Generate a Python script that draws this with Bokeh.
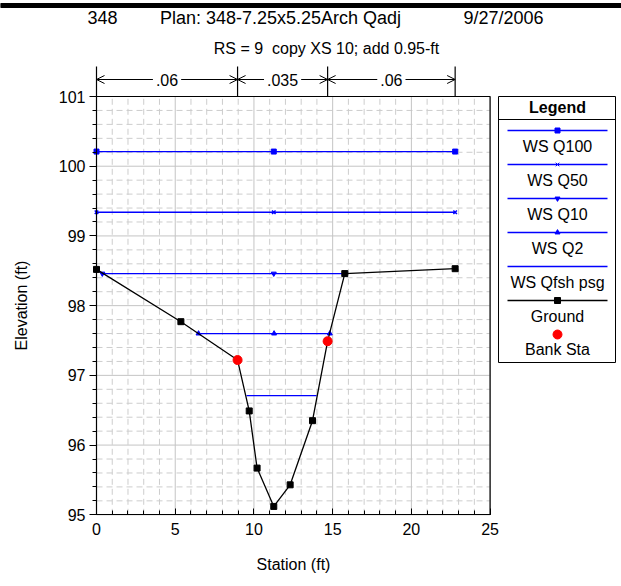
from bokeh.plotting import figure
from bokeh.models import Range1d, Label, Arrow, OpenHead, FixedTicker, ColumnDataSource
from bokeh.embed import file_html
from bokeh.resources import INLINE

# ---------------- data ----------------
ground_sta = [0.0, 5.36, 8.96, 9.70, 10.20, 11.26, 12.30, 13.72, 14.68, 15.77, 22.78]
ground_elev = [98.52, 97.77, 97.22, 96.49, 95.67, 95.12, 95.43, 96.35, 97.49, 98.46, 98.53]
bank_sta = [8.96, 14.68]
bank_elev = [97.22, 97.49]

ws_names = ["WS Q100", "WS Q50", "WS Q10", "WS Q2", "WS Qfsh psg"]
ws_elev = [100.21, 99.34, 98.46, 97.60, 96.71]
ws_left = [0.0, 0.0, 0.37, 6.48, 9.53]
ws_right = [22.78, 22.78, 15.77, 14.82, 13.98]
ws_mid = [11.26, 11.26, 11.26, 11.28, None]
ws_marker = ["square", "x", "inverted_triangle", "triangle", None]

n_sta = [0.0, 8.96, 14.68, 22.78]
n_vals = [".06", ".035", ".06"]

x_ticks = [0, 5, 10, 15, 20, 25]
y_ticks = [95, 96, 97, 98, 99, 100, 101]
x_min, x_max, y_min, y_max = 0, 25, 95, 101

title_parts = ["348", "Plan: 348-7.25x5.25Arch Qadj", "9/27/2006"]
subtitle = "RS = 9\u00a0\u00a0copy XS 10; add 0.95-ft"

# ---------------- layout (pixels of the page) ----------------
FONT = "Liberation Sans"
W, H = 621, 586
PX0, PX1 = 96.0, 489.6   # plot box left / right
PY0, PY1 = 96.0, 514.3   # plot box top / bottom
SX = (PX1 - PX0) / (x_max - x_min)
SY = (PY1 - PY0) / (y_max - y_min)

def fx(px):
    return x_min + (px - PX0) / SX

def fy(py):
    return y_max - (py - PY0) / SY

p = figure(width=W, height=H, output_backend="svg", toolbar_location=None,
           x_range=Range1d(fx(0), fx(W)), y_range=Range1d(fy(H), fy(0)),
           min_border=0, min_border_left=0, min_border_right=0,
           min_border_top=0, min_border_bottom=0,
           background_fill_color="white", border_fill_color="white")
p.outline_line_color = None
p.xgrid.visible = False
p.ygrid.visible = False

# ---------------- grid (drawn inside the plot box) ----------------
GRID = "#c4c4c4"
MINOR = "#cdcdcd"
minor_x = [v for v in range(x_min, x_max + 1) if v not in x_ticks]
minor_y = [95 + 0.2 * i for i in range(31) if i % 5 != 0]
p.segment(x0=minor_x, y0=[y_min] * len(minor_x), x1=minor_x, y1=[y_max] * len(minor_x),
          line_color=MINOR, line_dash="6 4", line_width=1)
p.segment(x0=[x_min] * len(minor_y), y0=minor_y, x1=[x_max] * len(minor_y), y1=minor_y,
          line_color=MINOR, line_dash="6 4", line_width=1)
p.segment(x0=x_ticks, y0=[y_min] * len(x_ticks), x1=x_ticks, y1=[y_max] * len(x_ticks),
          line_color=GRID, line_width=1)
p.segment(x0=[x_min] * len(y_ticks), y0=y_ticks, x1=[x_max] * len(y_ticks), y1=y_ticks,
          line_color=GRID, line_width=1)
p.line([x_min, x_max, x_max], [y_max, y_max, y_min], color="black", line_width=1.2)

# ---------------- axes ----------------
p.xaxis.ticker = FixedTicker(ticks=x_ticks, minor_ticks=list(range(x_min, x_max + 1)))
p.yaxis.ticker = FixedTicker(ticks=y_ticks, minor_ticks=[95 + 0.2 * i for i in range(31)])
p.xaxis.fixed_location = y_min
p.yaxis.fixed_location = x_min
p.xaxis.bounds = (x_min, x_max)
p.yaxis.bounds = (y_min, y_max)
for ax in (p.xaxis[0], p.yaxis[0]):
    ax.axis_line_color = "black"
    ax.axis_line_width = 1.2
    ax.major_tick_line_color = "black"
    ax.minor_tick_line_color = "black"
    ax.major_label_text_font = FONT
    ax.major_label_text_font_size = "16px"
    ax.major_label_text_color = "black"
    ax.axis_label_text_font = FONT
    ax.axis_label_text_font_size = "16px"
    ax.axis_label_text_font_style = "normal"
    ax.axis_label_text_color = "black"
p.xaxis.axis_label = "Station (ft)"
p.yaxis.axis_label = "Elevation (ft)"
p.xaxis.major_tick_in = 6
p.xaxis.major_tick_out = 0
p.xaxis.minor_tick_in = 4
p.xaxis.minor_tick_out = 0
p.xaxis.major_label_standoff = 8
p.xaxis.axis_label_standoff = 18
p.yaxis.major_tick_in = 0
p.yaxis.major_tick_out = 7
p.yaxis.minor_tick_in = 0
p.yaxis.minor_tick_out = 4
p.yaxis.major_label_standoff = 4
p.yaxis.axis_label_standoff = 26

# ---------------- data glyphs ----------------
BLUE = "#0000ff"
for i in range(len(ws_names)):
    p.line([ws_left[i], ws_right[i]], [ws_elev[i], ws_elev[i]], color=BLUE, line_width=1.3)
    if ws_marker[i] is not None:
        xs = [ws_left[i], ws_mid[i], ws_right[i]]
        p.scatter(xs, [ws_elev[i]] * 3, marker=ws_marker[i], size=5,
                  color=BLUE, line_width=1.5 if ws_marker[i] == "x" else 1)

p.line(ground_sta, ground_elev, color="black", line_width=1.3)
p.scatter(ground_sta, ground_elev, marker="square", size=6, color="black")
p.scatter(bank_sta, bank_elev, marker="circle", size=9, color="#ff0000")

# ---------------- annotations ----------------
def lab(px, py, text, size="16px", style="normal"):
    p.add_layout(Label(x=fx(px), y=fy(py), text=text, text_align="center",
                       text_baseline="middle", text_font=FONT, text_font_size=size,
                       text_font_style=style, text_color="black"))

def seg(px0, py0, px1, py1, color="black", width=1.0):
    p.line([fx(px0), fx(px1)], [fy(py0), fy(py1)], color=color, line_width=width)

# thick top rule
p.quad(left=fx(0), right=fx(W), top=fy(3), bottom=fy(7), color="black")

# titles
lab(102, 17, title_parts[0], size="18px")
lab(280, 17, title_parts[1], size="18px")
lab(503, 17, title_parts[2], size="18px")
lab(326, 48, subtitle, size="16px")

# Manning's n boundaries
top_y, arr_y = 66, 79
p.segment(x0=n_sta, y0=[fy(top_y)] * len(n_sta), x1=n_sta, y1=[y_max] * len(n_sta),
          line_color="black", line_width=1.2)
for i, t in enumerate(n_vals):
    p.add_layout(Arrow(x_start=n_sta[i], y_start=fy(arr_y), x_end=n_sta[i + 1], y_end=fy(arr_y),
                       start=OpenHead(size=8, line_width=1), end=OpenHead(size=8, line_width=1),
                       line_color="black", line_width=1))
    p.add_layout(Label(x=(n_sta[i] + n_sta[i + 1]) / 2, y=fy(arr_y), text=t, text_align="center",
                       text_baseline="middle", text_font=FONT, text_font_size="16px",
                       text_color="black", background_fill_color="white", padding=3))

# legend box
LX0, LX1, LY0, LY1 = 498, 615, 96, 362
p.quad(left=fx(LX0), right=fx(LX1), top=fy(LY0), bottom=fy(LY1),
       fill_color="white", line_color="black", line_width=1)
seg(LX0, 119, LX1, 119)
lab(557, 107, "Legend", style="bold")
lx0, lx1, lxc = 507, 607, 557
legend_markers = ws_marker + ["square"]
legend_names = ws_names + ["Ground"]
legend_colors = [BLUE] * 5 + ["black"]
mk_x, mk_y, mk_m, mk_c, mk_s = [], [], [], [], []
for i, name in enumerate(legend_names):
    ly = 130 + 34 * i
    seg(lx0, ly, lx1, ly, color=legend_colors[i], width=1.3)
    lab(lxc, ly + 16, name)
    if legend_markers[i] is not None:
        mk_x.append(fx(lxc)); mk_y.append(fy(ly)); mk_m.append(legend_markers[i])
        mk_c.append(legend_colors[i]); mk_s.append(5 if i < 5 else 6)
mk_x.append(fx(lxc)); mk_y.append(fy(334)); mk_m.append("circle"); mk_c.append("#ff0000"); mk_s.append(9)
lab(lxc, 349, "Bank Sta")
src = ColumnDataSource(dict(x=mk_x, y=mk_y, m=mk_m, c=mk_c, s=mk_s))
p.scatter("x", "y", marker="m", color="c", size="s", source=src)

open("out.html", "w").write(file_html(p, INLINE))
